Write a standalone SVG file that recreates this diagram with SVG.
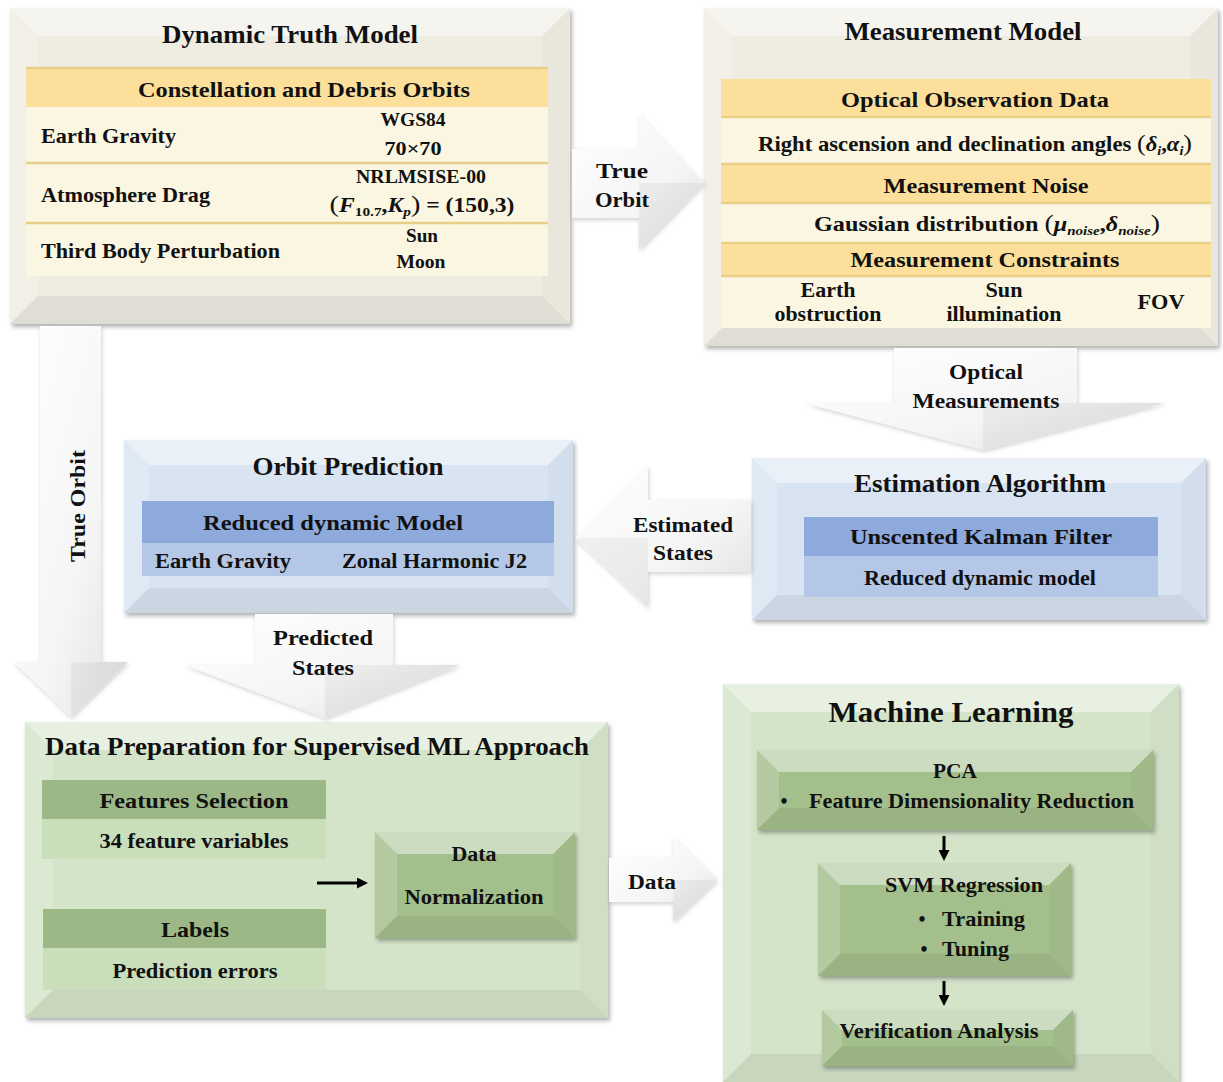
<svg xmlns="http://www.w3.org/2000/svg" width="1223" height="1082" viewBox="0 0 1223 1082">
<defs>
<style>
.t{font-family:"Liberation Serif","Times New Roman",serif;font-weight:bold;fill:#111;}
.c{text-anchor:middle;}
.i{font-style:italic;}
.bt{fill:#fff;fill-opacity:.45;}
.bl{fill:#fff;fill-opacity:.18;}
.br{fill:#000;fill-opacity:.025;}
.bb{fill:#000;fill-opacity:.06;}
.beige{fill:#EFECE2;}
.blue{fill:#D8E4F1;}
.gbig{fill:#D4E4C9;}
.gsm{fill:#A3BF8C;}
.yh{fill:#FCDF9B;}
.yr{fill:#FAF6E2;}
.ysep{stroke:#E8CF88;stroke-width:2.5;}
.bd{fill:#8EA9DB;}
.bli{fill:#B4C7E7;}
.gd{fill:#9BB886;}
.gl{fill:#C9DEBA;}
.arr{fill:url(#ag);filter:url(#ash);}
.fac{fill:#000;fill-opacity:.045;}
.ln{stroke:#000;stroke-width:3;fill:none;marker-end:url(#mk);}
</style>
<linearGradient id="ag" x1="0" y1="0" x2="1" y2="1">
<stop offset="0" stop-color="#FFFFFF"/>
<stop offset="0.6" stop-color="#F5F5F5"/>
<stop offset="1" stop-color="#E0E0E0"/>
</linearGradient>
<filter id="sh" x="-5%" y="-5%" width="112%" height="115%">
<feDropShadow dx="2" dy="3" stdDeviation="2" flood-color="#000" flood-opacity="0.3"/>
</filter>
<filter id="ash" x="-10%" y="-10%" width="125%" height="125%">
<feDropShadow dx="1" dy="2" stdDeviation="2" flood-color="#000" flood-opacity="0.18"/>
</filter>
<marker id="mk" markerWidth="11" markerHeight="11" refX="5" refY="5.5" orient="auto" markerUnits="userSpaceOnUse" viewBox="0 0 11 11">
<path d="M0,0 L11,5.5 L0,11 Z" fill="#000"/>
</marker>
</defs>
<rect width="1223" height="1082" fill="#fff"/>

<g id="dynamic-truth-model">
<rect class="beige" x="10" y="8" width="560" height="316" filter="url(#sh)"/>
<polygon class="bt" points="10,8 570,8 542,36 38,36"/>
<polygon class="bl" points="10,8 38,36 38,296 10,324"/>
<polygon class="br" points="570,8 570,324 542,296 542,36"/>
<polygon class="bb" points="10,324 38,296 542,296 570,324"/>
<text class="t c" x="290" y="43" font-size="26" textLength="256" lengthAdjust="spacingAndGlyphs">Dynamic Truth Model</text>
<rect class="yh" x="26" y="67" width="522" height="40"/>
<rect class="yr" x="26" y="107" width="522" height="169"/>
<line class="ysep" x1="26" y1="68" x2="548" y2="68"/>
<line class="ysep" x1="26" y1="163" x2="548" y2="163"/>
<line class="ysep" x1="26" y1="223" x2="548" y2="223"/>
<text class="t c" x="304" y="97" font-size="22" textLength="332" lengthAdjust="spacingAndGlyphs">Constellation and Debris Orbits</text>
<text class="t" x="41" y="143" font-size="21" textLength="135" lengthAdjust="spacingAndGlyphs">Earth Gravity</text>
<text class="t c" x="413" y="126" font-size="18" textLength="65" lengthAdjust="spacingAndGlyphs">WGS84</text>
<text class="t c" x="413" y="155" font-size="19" textLength="57" lengthAdjust="spacingAndGlyphs">70×70</text>
<text class="t" x="41" y="202" font-size="21" textLength="169" lengthAdjust="spacingAndGlyphs">Atmosphere Drag</text>
<text class="t c" x="421" y="183" font-size="18" textLength="130" lengthAdjust="spacingAndGlyphs">NRLMSISE-00</text>
<text class="t c" x="422" y="212" font-size="20" textLength="185" lengthAdjust="spacingAndGlyphs"><tspan font-size="24" font-weight="normal">(</tspan><tspan class="i">F</tspan><tspan font-size="13" dy="4">10.7</tspan><tspan dy="-4">,</tspan><tspan class="i">K</tspan><tspan class="i" font-size="13" dy="4">p</tspan><tspan dy="-4" font-size="24" font-weight="normal">)</tspan><tspan> = (150,3)</tspan></text>
<text class="t" x="41" y="258" font-size="21" textLength="239" lengthAdjust="spacingAndGlyphs">Third Body Perturbation</text>
<text class="t c" x="422" y="242" font-size="18" textLength="32" lengthAdjust="spacingAndGlyphs">Sun</text>
<text class="t c" x="421" y="268" font-size="18" textLength="49" lengthAdjust="spacingAndGlyphs">Moon</text>
</g>

<g id="measurement-model">
<rect class="beige" x="704" y="8" width="514" height="338" filter="url(#sh)"/>
<polygon class="bt" points="704,8 1218,8 1190,36 732,36"/>
<polygon class="bl" points="704,8 732,36 732,318 704,346"/>
<polygon class="br" points="1218,8 1218,346 1190,318 1190,36"/>
<polygon class="bb" points="704,346 732,318 1190,318 1218,346"/>
<text class="t c" x="963" y="40" font-size="26" textLength="237" lengthAdjust="spacingAndGlyphs">Measurement Model</text>
<rect class="yh" x="721" y="79" width="490" height="38"/>
<rect class="yr" x="721" y="117" width="490" height="47"/>
<rect class="yh" x="721" y="164" width="490" height="39"/>
<rect class="yr" x="721" y="203" width="490" height="40"/>
<rect class="yh" x="721" y="243" width="490" height="33"/>
<rect class="yr" x="721" y="276" width="490" height="52"/>
<line class="ysep" x1="721" y1="117" x2="1211" y2="117"/>
<line class="ysep" x1="721" y1="164" x2="1211" y2="164"/>
<line class="ysep" x1="721" y1="203" x2="1211" y2="203"/>
<line class="ysep" x1="721" y1="243" x2="1211" y2="243"/>
<line class="ysep" x1="721" y1="276" x2="1211" y2="276"/>
<text class="t c" x="975" y="107" font-size="22" textLength="268" lengthAdjust="spacingAndGlyphs">Optical Observation Data</text>
<text class="t c" x="975" y="151" font-size="21" textLength="434" lengthAdjust="spacingAndGlyphs">Right ascension and declination angles <tspan font-weight="normal" font-size="24">(</tspan><tspan class="i">δ</tspan><tspan class="i" font-size="13" dy="4">i</tspan><tspan dy="-4">,</tspan><tspan class="i">α</tspan><tspan class="i" font-size="13" dy="4">i</tspan><tspan dy="-4" font-weight="normal" font-size="24">)</tspan></text>
<text class="t c" x="986" y="193" font-size="22" textLength="205" lengthAdjust="spacingAndGlyphs">Measurement Noise</text>
<text class="t c" x="987" y="231" font-size="21" textLength="346" lengthAdjust="spacingAndGlyphs">Gaussian distribution <tspan font-weight="normal" font-size="24">(</tspan><tspan class="i">μ</tspan><tspan class="i" font-size="13" dy="4">noise</tspan><tspan dy="-4">,</tspan><tspan class="i">δ</tspan><tspan class="i" font-size="13" dy="4">noise</tspan><tspan dy="-4" font-weight="normal" font-size="24">)</tspan></text>
<text class="t c" x="985" y="267" font-size="22" textLength="269" lengthAdjust="spacingAndGlyphs">Measurement Constraints</text>
<text class="t c" x="828" y="297" font-size="21" textLength="55" lengthAdjust="spacingAndGlyphs">Earth</text>
<text class="t c" x="828" y="321" font-size="21" textLength="107" lengthAdjust="spacingAndGlyphs">obstruction</text>
<text class="t c" x="1004" y="297" font-size="21" textLength="37" lengthAdjust="spacingAndGlyphs">Sun</text>
<text class="t c" x="1004" y="321" font-size="21" textLength="115" lengthAdjust="spacingAndGlyphs">illumination</text>
<text class="t c" x="1161" y="309" font-size="21" textLength="47" lengthAdjust="spacingAndGlyphs">FOV</text>
</g>

<g id="estimation-algorithm">
<rect class="blue" x="752" y="458" width="454" height="162" filter="url(#sh)"/>
<polygon class="bt" points="752,458 1206,458 1181,483 777,483"/>
<polygon class="bl" points="752,458 777,483 777,595 752,620"/>
<polygon class="br" points="1206,458 1206,620 1181,595 1181,483"/>
<polygon class="bb" points="752,620 777,595 1181,595 1206,620"/>
<text class="t c" x="980" y="492" font-size="26" textLength="252" lengthAdjust="spacingAndGlyphs">Estimation Algorithm</text>
<rect class="bd" x="804" y="517" width="354" height="39"/>
<rect class="bli" x="804" y="556" width="354" height="41"/>
<text class="t c" x="981" y="544" font-size="22" textLength="262" lengthAdjust="spacingAndGlyphs">Unscented Kalman Filter</text>
<text class="t c" x="980" y="585" font-size="21" textLength="232" lengthAdjust="spacingAndGlyphs">Reduced dynamic model</text>
</g>

<g id="orbit-prediction">
<rect class="blue" x="124" y="440" width="449" height="173" filter="url(#sh)"/>
<polygon class="bt" points="124,440 573,440 548,465 149,465"/>
<polygon class="bl" points="124,440 149,465 149,588 124,613"/>
<polygon class="br" points="573,440 573,613 548,588 548,465"/>
<polygon class="bb" points="124,613 149,588 548,588 573,613"/>
<text class="t c" x="348" y="475" font-size="25" textLength="191" lengthAdjust="spacingAndGlyphs">Orbit Prediction</text>
<rect class="bd" x="142" y="501" width="412" height="42"/>
<rect class="bli" x="142" y="543" width="412" height="33"/>
<text class="t c" x="333" y="530" font-size="22" textLength="260" lengthAdjust="spacingAndGlyphs">Reduced dynamic Model</text>
<text class="t" x="155" y="568" font-size="20" textLength="136" lengthAdjust="spacingAndGlyphs">Earth Gravity</text>
<text class="t" x="342" y="568" font-size="20" textLength="185" lengthAdjust="spacingAndGlyphs">Zonal Harmonic J2</text>
</g>

<g id="data-preparation">
<rect class="gbig" x="25" y="722" width="583" height="296" filter="url(#sh)"/>
<polygon class="bt" points="25,722 608,722 580,750 53,750"/>
<polygon class="bl" points="25,722 53,750 53,990 25,1018"/>
<polygon class="br" points="608,722 608,1018 580,990 580,750"/>
<polygon class="bb" points="25,1018 53,990 580,990 608,1018"/>
<text class="t c" x="317" y="755" font-size="26" textLength="544" lengthAdjust="spacingAndGlyphs">Data Preparation for Supervised ML Approach</text>
<rect class="gd" x="42" y="780" width="284" height="39"/>
<rect class="gl" x="42" y="819" width="284" height="40"/>
<rect class="gd" x="43" y="909" width="283" height="39"/>
<rect class="gl" x="43" y="948" width="283" height="42"/>
<text class="t c" x="194" y="808" font-size="22" textLength="189" lengthAdjust="spacingAndGlyphs">Features Selection</text>
<text class="t c" x="194" y="848" font-size="21" textLength="189" lengthAdjust="spacingAndGlyphs">34 feature variables</text>
<text class="t c" x="195" y="937" font-size="22" textLength="68" lengthAdjust="spacingAndGlyphs">Labels</text>
<text class="t c" x="195" y="978" font-size="21" textLength="165" lengthAdjust="spacingAndGlyphs">Prediction errors</text>
</g>

<g id="data-normalization">
<rect class="gsm" x="375" y="832" width="200" height="106" filter="url(#sh)"/>
<polygon class="bt" points="375,832 575,832 553,854 397,854"/>
<polygon class="bl" points="375,832 397,854 397,916 375,938"/>
<polygon class="br" points="575,832 575,938 553,916 553,854"/>
<polygon class="bb" points="375,938 397,916 553,916 575,938"/>
<text class="t c" x="474" y="861" font-size="21" textLength="45" lengthAdjust="spacingAndGlyphs">Data</text>
<text class="t c" x="474" y="904" font-size="21" textLength="139" lengthAdjust="spacingAndGlyphs">Normalization</text>
</g>

<g id="machine-learning">
<rect class="gbig" x="723" y="684" width="456" height="398" filter="url(#sh)"/>
<polygon class="bt" points="723,684 1179,684 1151,712 751,712"/>
<polygon class="bl" points="723,684 751,712 751,1054 723,1082"/>
<polygon class="br" points="1179,684 1179,1082 1151,1054 1151,712"/>
<polygon class="bb" points="723,1082 751,1054 1151,1054 1179,1082"/>
<text class="t c" x="951" y="722" font-size="29" textLength="245" lengthAdjust="spacingAndGlyphs">Machine Learning</text>
</g>

<g id="pca">
<rect class="gsm" x="757" y="750" width="396" height="80" filter="url(#sh)"/>
<polygon class="bt" points="757,750 1153,750 1131,772 779,772"/>
<polygon class="bl" points="757,750 779,772 779,808 757,830"/>
<polygon class="br" points="1153,750 1153,830 1131,808 1131,772"/>
<polygon class="bb" points="757,830 779,808 1131,808 1153,830"/>
<text class="t c" x="955" y="778" font-size="20" textLength="44" lengthAdjust="spacingAndGlyphs">PCA</text>
<text class="t c" x="784" y="808" font-size="20">•</text>
<text class="t" x="809" y="808" font-size="21" textLength="325" lengthAdjust="spacingAndGlyphs">Feature Dimensionality Reduction</text>
</g>

<g id="svm-regression">
<rect class="gsm" x="818" y="863" width="253" height="113" filter="url(#sh)"/>
<polygon class="bt" points="818,863 1071,863 1049,885 840,885"/>
<polygon class="bl" points="818,863 840,885 840,954 818,976"/>
<polygon class="br" points="1071,863 1071,976 1049,954 1049,885"/>
<polygon class="bb" points="818,976 840,954 1049,954 1071,976"/>
<text class="t c" x="964" y="892" font-size="21" textLength="158" lengthAdjust="spacingAndGlyphs">SVM Regression</text>
<text class="t c" x="922" y="926" font-size="20">•</text>
<text class="t" x="942" y="926" font-size="22" textLength="83" lengthAdjust="spacingAndGlyphs">Training</text>
<text class="t c" x="924" y="956" font-size="20">•</text>
<text class="t" x="942" y="956" font-size="22" textLength="67" lengthAdjust="spacingAndGlyphs">Tuning</text>
</g>

<g id="verification-analysis">
<rect class="gsm" x="822" y="1010" width="251" height="56" filter="url(#sh)"/>
<polygon class="bt" points="822,1010 1073,1010 1053,1030 842,1030"/>
<polygon class="bl" points="822,1010 842,1030 842,1046 822,1066"/>
<polygon class="br" points="1073,1010 1073,1066 1053,1046 1053,1030"/>
<polygon class="bb" points="822,1066 842,1046 1053,1046 1073,1066"/>
<text class="t c" x="939" y="1038" font-size="21" textLength="199" lengthAdjust="spacingAndGlyphs">Verification Analysis</text>
</g>

<g id="connectors">
<g id="arrow-true-orbit-right">
<polygon class="arr" points="572,149 639,149 639,115 704,183 639,250 639,218 572,218"/>
<polygon class="fac" points="639,183 704,183 639,250"/>
<text class="t c" x="622" y="178" font-size="22" textLength="52" lengthAdjust="spacingAndGlyphs">True</text>
<text class="t c" x="622" y="207" font-size="22" textLength="54" lengthAdjust="spacingAndGlyphs">Orbit</text>
</g>
<g id="arrow-optical">
<polygon class="arr" points="894,348 1077,348 1077,403 1165,403 983,450 805,403 894,403"/>
<polygon class="fac" points="983,403 1165,403 983,450"/>
<text class="t c" x="986" y="379" font-size="22" textLength="74" lengthAdjust="spacingAndGlyphs">Optical</text>
<text class="t c" x="986" y="408" font-size="22" textLength="147" lengthAdjust="spacingAndGlyphs">Measurements</text>
</g>
<g id="arrow-estimated">
<polygon class="arr" points="751,500 648,500 648,465 575,538 648,607 648,572 751,572"/>
<polygon class="fac" points="648,538 575,538 648,607"/>
<text class="t c" x="683" y="532" font-size="22" textLength="100" lengthAdjust="spacingAndGlyphs">Estimated</text>
<text class="t c" x="683" y="560" font-size="22" textLength="60" lengthAdjust="spacingAndGlyphs">States</text>
</g>
<g id="arrow-true-orbit-down">
<polygon class="arr" points="40,326 101,326 101,662 128,662 71,717 14,662 40,662"/>
<polygon class="fac" points="71,662 128,662 71,717"/>
<text class="t c" transform="translate(85,506) rotate(-90)" font-size="22" textLength="112" lengthAdjust="spacingAndGlyphs">True Orbit</text>
</g>
<g id="arrow-predicted">
<polygon class="arr" points="255,614 393,614 393,665 460,665 325,718 185,665 255,665"/>
<polygon class="fac" points="325,665 460,665 325,718"/>
<text class="t c" x="323" y="645" font-size="22" textLength="100" lengthAdjust="spacingAndGlyphs">Predicted</text>
<text class="t c" x="323" y="675" font-size="22" textLength="62" lengthAdjust="spacingAndGlyphs">States</text>
</g>
<g id="arrow-data">
<polygon class="arr" points="609,858 673,858 673,837 717,880 673,922 673,902 609,902"/>
<polygon class="fac" points="673,880 717,880 673,922"/>
<text class="t c" x="652" y="889" font-size="22" textLength="48" lengthAdjust="spacingAndGlyphs">Data</text>
</g>
<line class="ln" x1="317" y1="883" x2="362" y2="883"/>
<line class="ln" x1="944" y1="836" x2="944" y2="855"/>
<line class="ln" x1="944" y1="981" x2="944" y2="1000"/>
</g>
</svg>
